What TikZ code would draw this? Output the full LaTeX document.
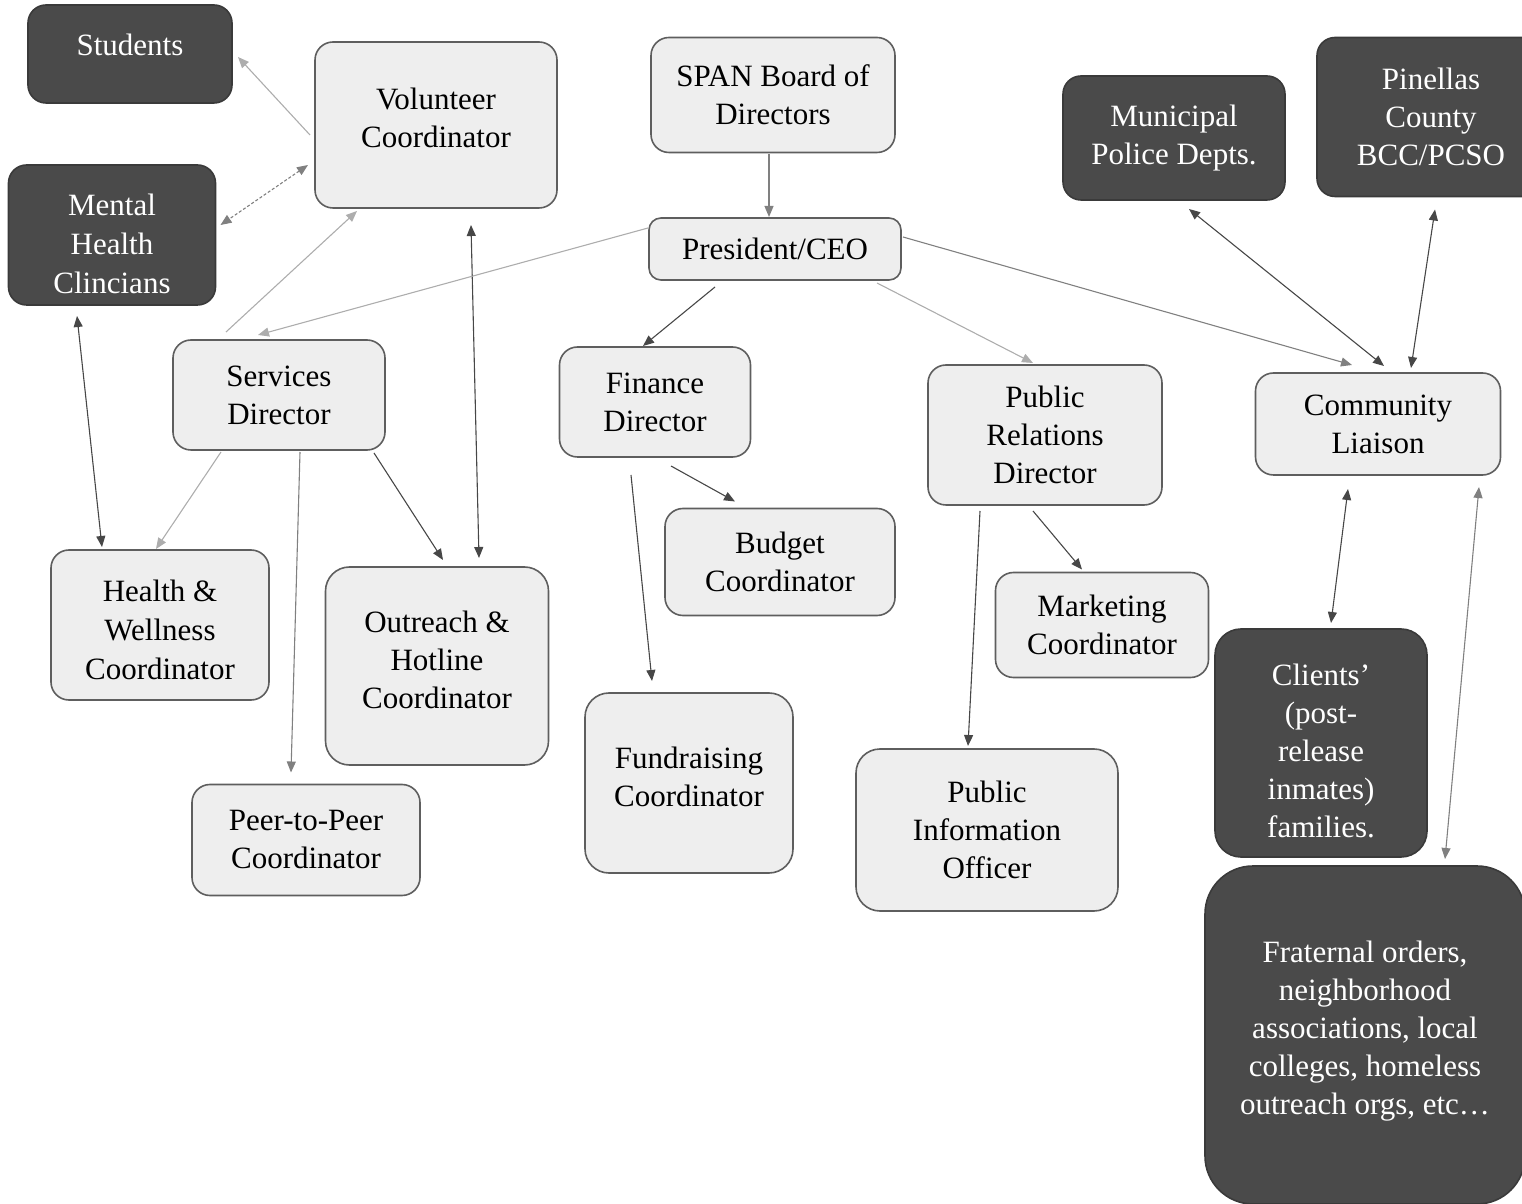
\documentclass[tikz,border=0pt]{standalone}
\usepackage{fontspec}
\setmainfont{Liberation Serif}
\usetikzlibrary{arrows.meta}

\definecolor{boxfill}{HTML}{EEEEEE}
\definecolor{boxline}{HTML}{5E5E5E}
\definecolor{darkfill}{HTML}{4A4A4A}
\definecolor{darkline}{HTML}{3A3A3A}
\definecolor{arrlight}{HTML}{ADADAD}
\definecolor{arrmid}{HTML}{808080}
\definecolor{arrdark}{HTML}{474747}

% raise the first line's height, pushes text down
\newcommand{\topgap}[1]{\rule{0pt}{#1}}

\begin{document}
\begin{tikzpicture}[x=1pt,y=1pt,
  every node/.style={align=center,outer sep=0pt,inner sep=0pt,font=\fontsize{31}{38}\selectfont},
  lbox/.style={draw=boxline,fill=boxfill,line width=1.6pt,rounded corners=18pt},
  dbox/.style={draw=darkline,fill=darkfill,text=white,line width=1.6pt,rounded corners=18pt},
  sz/.style 2 args={minimum width=#1pt,minimum height=#2pt},
  tup/.style={text depth=#1},
  >={Triangle[length=11pt,width=9pt]},
  con/.style={line width=1.1pt},
  lt/.style={con,draw=arrlight},
  md/.style={con,draw=arrmid},
  dk/.style={con,draw=arrdark}]
\useasboundingbox (0,0) rectangle (1522,1203);
\clip (0,0) rectangle (1522,1203);

% outside groups
\node[dbox,sz={204}{98},tup=18pt] (stud) at (130,1149) {Students};
\node[dbox,sz={207}{140},font=\fontsize{31}{39}\selectfont] (mhc) at (112,968) {\topgap{40pt}Mental\\Health\\Clincians};
\node[dbox,sz={222}{124}] (police) at (1174,1065) {Municipal\\Police Depts.};
\node[dbox,sz={228}{159}] (pinellas) at (1431,1086) {Pinellas\\County\\BCC/PCSO};
\node[dbox,sz={212}{228},rounded corners=26pt] (clients) at (1321,460) {\topgap{38pt}Clients'\\(post-\\release\\inmates)\\families.};
\node[dbox,sz={320}{338},rounded corners=48pt,tup=15pt] (frat) at (1365,168) {Fraternal orders,\\neighborhood\\associations, local\\colleges, homeless\\outreach orgs, etc…};

% SPAN staff
\node[lbox,sz={244}{115}] (span) at (773,1108) {SPAN Board of\\Directors};
\node[lbox,sz={252}{62},rounded corners=12pt] (ceo) at (775,954) {President/CEO};
\node[lbox,sz={242}{166},tup=14pt] (vol) at (436,1078) {Volunteer\\Coordinator};
\node[lbox,sz={212}{110}] (serv) at (279,808) {Services\\Director};
\node[lbox,sz={191}{110}] (fin) at (655,801) {Finance\\Director};
\node[lbox,sz={234}{140}] (pr) at (1045,768) {Public\\Relations\\Director};
\node[lbox,sz={245}{102}] (liaison) at (1378,779) {Community\\Liaison};
\node[lbox,sz={218}{150},font=\fontsize{31}{39}\selectfont] (hw) at (160,578) {\topgap{32pt}Health \&\\Wellness\\Coordinator};
\node[lbox,sz={223}{198},rounded corners=24pt,tup=13pt] (outr) at (437,537) {Outreach \&\\Hotline\\Coordinator};
\node[lbox,sz={230}{107}] (budget) at (780,641) {Budget\\Coordinator};
\node[lbox,sz={213}{105}] (mkt) at (1102,578) {Marketing\\Coordinator};
\node[lbox,sz={208}{180},rounded corners=24pt,tup=12pt] (fund) at (689,420) {Fundraising\\Coordinator};
\node[lbox,sz={262}{162},rounded corners=24pt] (pio) at (987,373) {Public\\Information\\Officer};
\node[lbox,sz={228}{111}] (peer) at (306,363) {Peer-to-Peer\\Coordinator};

% connectors
\draw[lt,->] ([xshift=-5pt,yshift=-10pt]vol.west) -- ([xshift=6pt,yshift=-3pt]stud.east);
\draw[md,<->,dash pattern=on 3pt off 2pt] ([xshift=-7pt,yshift=-40pt]vol.west) -- ([xshift=5pt,yshift=10pt]mhc.east);
\draw[lt,->] ([xshift=-53pt,yshift=8pt]serv.north) -- ([xshift=-79pt,yshift=-3pt]vol.south);
\draw[dk,<->] ([xshift=42pt,yshift=9pt]outr.north) -- ([xshift=35pt,yshift=-17pt]vol.south);
\draw[lt,->] ([xshift=-1pt,yshift=21pt]ceo.west) -- ([xshift=-21pt,yshift=5pt]serv.north);
\draw[md,->] ([xshift=-4pt,yshift=-2pt]span.south) -- ([xshift=-6pt,yshift=1pt]ceo.north);
\draw[dk,->] ([xshift=-60pt,yshift=-7pt]ceo.south) -- ([xshift=-12pt,yshift=1pt]fin.north);
\draw[lt,->] ([xshift=102pt,yshift=-3pt]ceo.south) -- ([xshift=-12pt,yshift=2pt]pr.north);
\draw[md,->] ([xshift=2pt,yshift=12pt]ceo.east) -- ([xshift=-26pt,yshift=8pt]liaison.north);
\draw[dk,<->] ([xshift=15pt,yshift=-9pt]police.south) -- ([xshift=6pt,yshift=7pt]liaison.north);
\draw[dk,<->] ([xshift=4pt,yshift=-13pt]pinellas.south) -- ([xshift=33pt,yshift=5pt]liaison.north);
\draw[dk,<->] ([xshift=-35pt,yshift=-11pt]mhc.south) -- ([xshift=-58pt,yshift=3pt]hw.north);
\draw[lt,->] ([xshift=-58pt,yshift=-2pt]serv.south) -- ([xshift=-4pt,yshift=1pt]hw.north);
\draw[md,->] ([xshift=21pt,yshift=-2pt]serv.south) -- ([xshift=-15pt,yshift=12pt]peer.north);
\draw[dk,->] ([xshift=95pt,yshift=-3pt]serv.south) -- ([xshift=6pt,yshift=7pt]outr.north);
\draw[dk,->] ([xshift=16pt,yshift=-9pt]fin.south) -- ([xshift=-45pt,yshift=7pt]budget.north);
\draw[dk,->] ([xshift=-24pt,yshift=-18pt]fin.south) -- ([xshift=-37pt,yshift=12pt]fund.north);
\draw[dk,->] ([xshift=-12pt,yshift=-6pt]pr.south) -- ([xshift=-20pt,yshift=3pt]mkt.north);
\draw[dk,->] ([xshift=-65pt,yshift=-6pt]pr.south) -- ([xshift=-19pt,yshift=3pt]pio.north);
\draw[dk,<->] ([xshift=-30pt,yshift=-14pt]liaison.south) -- ([xshift=10pt,yshift=6pt]clients.north);
\draw[md,<->] ([xshift=101pt,yshift=-12pt]liaison.south) -- ([xshift=80pt,yshift=7pt]frat.north);
\end{tikzpicture}
\end{document}
